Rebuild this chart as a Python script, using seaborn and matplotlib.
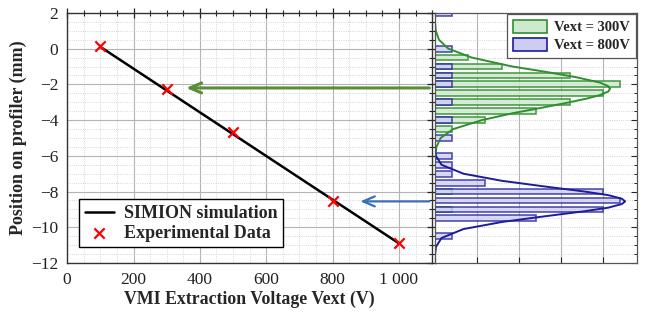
import matplotlib
matplotlib.use("Agg")
import matplotlib.pyplot as plt
from matplotlib.patches import Patch
from matplotlib.ticker import MultipleLocator, FixedLocator
import seaborn as sns

# --- data ---
volt_sim = [100, 1000]
pos_sim = [0.1, -10.9]
volt_exp = [100, 300, 500, 800, 1000]
pos_exp = [0.15, -2.27, -4.65, -8.55, -10.9]

# histogram of positions on the profiler (counts per 0.5 mm bin)
hist_pos_300 = [-0.5, -1.0, -1.5, -2.0, -2.5, -3.0, -3.5, -4.0, -4.5, -8.0, -9.0]
hist_cnt_300 = [2, 4, 8, 11, 10, 8, 6, 3, 1, 1, 1]
hist_pos_800 = [2.0, 0.0, -1.0, -1.5, -2.0, -3.0, -4.0, -5.0, -6.0, -6.5, -7.0,
                -7.5, -8.0, -8.5, -9.0, -9.5, -10.5]
hist_cnt_800 = [1, 1, 1, 1, 1, 1, 1, 1, 1, 1, 1, 3, 10, 11, 10, 6, 1]

# fitted curves, points
fit_pos_300 = [2.0, 1.5, 1.0, 0.5, 0.0, -0.5, -1.0, -1.3, -1.6, -1.9, -2.1, -2.25,
               -2.4, -2.6, -2.8, -3.0, -3.3, -3.6, -4.0, -4.5, -5.0, -5.5, -6.0,
               -6.5, -12.0]
fit_cnt_300 = [0.0, 0.01, 0.06, 0.25, 0.8, 2.2, 4.6, 6.6, 8.4, 9.8, 10.3, 10.4,
               10.3, 9.8, 9.0, 8.0, 6.4, 4.7, 2.8, 1.1, 0.35, 0.1, 0.02, 0.0, 0.0]
fit_pos_800 = [2.0, -5.0, -5.5, -6.0, -6.5, -7.0, -7.4, -7.7, -8.0, -8.2, -8.4,
               -8.55, -8.7, -8.9, -9.1, -9.4, -9.7, -10.1, -10.6, -11.1, -11.6, -12.0]
fit_cnt_800 = [0.0, 0.0, 0.01, 0.07, 0.4, 1.7, 4.0, 6.4, 8.9, 10.3, 11.1,
               11.3, 11.1, 10.3, 8.9, 6.4, 4.0, 1.7, 0.4, 0.07, 0.01, 0.0]

GREEN = "#2f8f2f"
GREEN_FILL = "#cfe9cf"
BLUE = "#1c1c9c"
BLUE_FILL = "#cdcdf2"
ARROW_GREEN = "#5b8c3a"
ARROW_BLUE = "#3c6eb4"

sns.set_theme(style="white")
plt.rcParams["font.family"] = ["Liberation Serif", "DejaVu Serif"]
plt.rcParams["axes.unicode_minus"] = True

fig = plt.figure(figsize=(6.46, 3.15), dpi=100)
ax = fig.add_axes([0.104, 0.165, 0.565, 0.794])
axh = fig.add_axes([0.673, 0.165, 0.313, 0.794])

# --- left panel: position vs extraction voltage ---
sns.lineplot(x=volt_sim, y=pos_sim, ax=ax, color="black", lw=1.8,
             label="SIMION simulation")
sns.scatterplot(x=volt_exp, y=pos_exp, ax=ax, marker="x", color="red", s=55,
                linewidth=1.6, label="Experimental Data", zorder=5)

ax.set_xlim(0, 1100)
ax.set_ylim(-12, 2)
ax.xaxis.set_major_locator(FixedLocator([0, 200, 400, 600, 800, 1000]))
ax.xaxis.set_minor_locator(MultipleLocator(50))
ax.yaxis.set_major_locator(MultipleLocator(2))
ax.yaxis.set_minor_locator(MultipleLocator(0.5))
ax.set_xticklabels(["0", "200", "400", "600", "800", "1 000"])
ax.grid(which="major", color="#b4b4b4", lw=0.8, ls="-")
ax.grid(which="minor", color="#c8c8c8", lw=0.6, ls=":")
ax.tick_params(which="both", direction="inout", top=True, right=True,
               labelsize=12.5, colors="#222222", pad=3)
ax.tick_params(which="major", length=7, width=0.9)
ax.tick_params(which="minor", length=4, width=0.8)
for s in ax.spines.values():
    s.set_color("#333333")
    s.set_linewidth(1.0)
ax.set_xlabel("VMI Extraction Voltage Vext (V)", fontsize=12.8, fontweight="bold",
              labelpad=2)
ax.set_ylabel("Position on profiler (mm)", fontsize=13, fontweight="bold",
              labelpad=3)

leg = ax.legend(loc="lower left", bbox_to_anchor=(0.033, 0.064), borderaxespad=0,
                fancybox=False, edgecolor="black", framealpha=1,
                prop={"size": 13, "weight": "bold"}, handlelength=1.6,
                borderpad=0.3, labelspacing=0.15, handletextpad=0.6)
leg.get_frame().set_linewidth(1.0)

# arrows from the histogram peaks back to the data points
ax.annotate("", xy=(350, -2.2), xytext=(1100, -2.2),
            arrowprops=dict(arrowstyle="->,head_length=0.7,head_width=0.3",
                            color=ARROW_GREEN, lw=2.2), annotation_clip=False)
ax.annotate("", xy=(875, -8.55), xytext=(1100, -8.55),
            arrowprops=dict(arrowstyle="->,head_length=0.7,head_width=0.3",
                            color=ARROW_BLUE, lw=1.6), annotation_clip=False)

# --- right panel: histograms of positions ---
sns.barplot(x=hist_cnt_300, y=hist_pos_300, orient="y", native_scale=True, ax=axh,
            color=GREEN_FILL, saturation=1, width=0.65, errorbar=None,
            edgecolor=GREEN, linewidth=1.2, alpha=0.85)
sns.barplot(x=hist_cnt_800, y=hist_pos_800, orient="y", native_scale=True, ax=axh,
            color=BLUE_FILL, saturation=1, width=0.65, errorbar=None,
            edgecolor=BLUE, linewidth=1.2, alpha=0.75)
sns.lineplot(x=fit_cnt_300, y=fit_pos_300, sort=False, estimator=None, ax=axh,
             color=GREEN, lw=1.4)
sns.lineplot(x=fit_cnt_800, y=fit_pos_800, sort=False, estimator=None, ax=axh,
             color=BLUE, lw=1.4)

axh.set_xlim(0, 12)
axh.set_ylim(-12, 2)
axh.xaxis.set_major_locator(MultipleLocator(2.5))
axh.yaxis.set_major_locator(MultipleLocator(2))
axh.yaxis.set_minor_locator(MultipleLocator(0.5))
axh.set_axisbelow(True)
axh.grid(axis="x", which="major", color="#b4b4b4", lw=0.8, ls="-")
axh.grid(axis="y", which="major", color="#c0c0c0", lw=0.6, ls=":")
axh.grid(axis="y", which="minor", color="#c8c8c8", lw=0.6, ls=":")
axh.tick_params(which="both", direction="in", left=False, right=True,
                top=False, bottom=True, labelleft=False, labelbottom=False)
axh.tick_params(which="major", length=4, width=0.8)
axh.tick_params(which="minor", length=2.5, width=0.7)
axh.set_xlabel("")
axh.set_ylabel("")
for s in axh.spines.values():
    s.set_color("#555555")
    s.set_linewidth(0.9)

handles = [Patch(facecolor=GREEN_FILL, edgecolor=GREEN, lw=1.2),
           Patch(facecolor=BLUE_FILL, edgecolor=BLUE, lw=1.2)]
leg2 = axh.legend(handles, ["Vext = 300V", "Vext = 800V"], loc="upper right",
                  bbox_to_anchor=(0.995, 0.995), borderaxespad=0, fancybox=False,
                  edgecolor="#555555", framealpha=1,
                  prop={"size": 10.5, "weight": "bold"}, handlelength=2.3,
                  handleheight=0.95, borderpad=0.4, labelspacing=0.25,
                  handletextpad=0.5)
leg2.get_frame().set_linewidth(0.9)

fig.savefig("out.png", dpi=100)
